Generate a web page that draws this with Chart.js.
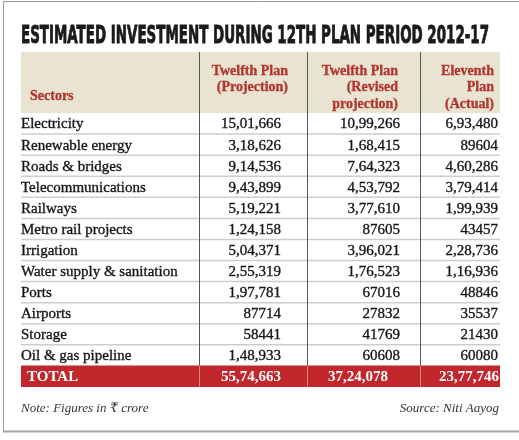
<!DOCTYPE html>
<html>
<head>
<meta charset="utf-8">
<script src="https://cdn.jsdelivr.net/npm/chart.js@4.4.1/dist/chart.umd.min.js"></script>
<style>
  html, body { margin: 0; padding: 0; background: #fff; }
  canvas { display: block; }
</style>
</head>
<body>
<canvas id="table-chart" width="519" height="440"></canvas>
<script>
const title = 'ESTIMATED INVESTMENT DURING 12TH PLAN PERIOD 2012-17';
const rowHeader = 'Sectors';
const colHeaders = [
  ['Twelfth Plan', '(Projection)'],
  ['Twelfth Plan', '(Revised', 'projection)'],
  ['Eleventh', 'Plan', '(Actual)'],
];
const sectors = [
  'Electricity', 'Renewable energy', 'Roads & bridges', 'Telecommunications',
  'Railways', 'Metro rail projects', 'Irrigation', 'Water supply & sanitation',
  'Ports', 'Airports', 'Storage', 'Oil & gas pipeline',
];
const projection = [1501666, 318626, 914536, 943899, 519221, 124158, 504371, 255319, 197781, 87714, 58441, 148933];
const revised = [1099266, 168415, 764323, 453792, 377610, 87605, 396021, 176523, 67016, 27832, 41769, 60608];
const actual = [693480, 89604, 460286, 379414, 199939, 43457, 228736, 116936, 48846, 35537, 21430, 60080];
const totalLabel = 'TOTAL';
const totals = [5574663, 3724078, 2377746];
const note = 'Note: Figures in ₹ crore';
const source = 'Source: Niti Aayog';

// layout (x in table units, 0..479 across the table)
const TABLE_W = 479;
const dividers = [178, 286, 399];
const valueRight = [260, 379, 477];
const totalRight = [260, 367, 478];
const headerTop = 52;

const SERIF = '"Liberation Serif", "DejaVu Serif", serif';
const RED = '#c1272d';

// 15,01,666 style; figures below one lakh are printed plain
function fmtInr(n) {
  if (n < 100000) return String(n);
  const s = String(n);
  const rest = s.slice(0, -3).replace(/\B(?=(\d{2})+(?!\d))/g, ',');
  return `${rest},${s.slice(-3)}`;
}

// fill + hairline stroke, the print original is a touch heavier than the system serif
function heavyText(ctx, text, px, py, weight, maxWidth) {
  ctx.lineWidth = weight;
  ctx.strokeStyle = ctx.fillStyle;
  if (maxWidth) {
    ctx.fillText(text, px, py, maxWidth);
    ctx.strokeText(text, px, py, maxWidth);
  } else {
    ctx.fillText(text, px, py);
    ctx.strokeText(text, px, py);
  }
}

const labels = [...sectors, totalLabel];
const columns = [projection, revised, actual];

const tablePlugin = {
  id: 'tablePlugin',
  beforeDatasetsDraw(chart) {
    const { ctx, chartArea, scales: { x } } = chart;
    ctx.save();
    // header band
    ctx.fillStyle = '#e9e4d2';
    ctx.fillRect(x.getPixelForValue(0), headerTop, x.getPixelForValue(TABLE_W) - x.getPixelForValue(0), chartArea.top - headerTop);
    ctx.restore();
  },
  afterDatasetsDraw(chart) {
    const { ctx, chartArea, scales: { x, y } } = chart;
    const last = labels.length - 1;
    const totalTop = (y.getPixelForValue(last - 1) + y.getPixelForValue(last)) / 2;
    ctx.save();
    // row separators
    ctx.strokeStyle = '#cdcdcd';
    ctx.lineWidth = 1.5;
    for (let i = 0; i < last - 1; i++) {
      const py = (y.getPixelForValue(i) + y.getPixelForValue(i + 1)) / 2;
      ctx.beginPath();
      ctx.moveTo(x.getPixelForValue(0), py);
      ctx.lineTo(x.getPixelForValue(TABLE_W), py);
      ctx.stroke();
    }
    // column dividers
    ctx.lineWidth = 1;
    dividers.forEach((d) => {
      const px = Math.round(x.getPixelForValue(d)) + 0.5;
      ctx.strokeStyle = '#555';
      ctx.beginPath();
      ctx.moveTo(px, headerTop);
      ctx.lineTo(px, totalTop);
      ctx.stroke();
      ctx.strokeStyle = 'rgba(255,255,255,0.45)';
      ctx.beginPath();
      ctx.moveTo(px, totalTop);
      ctx.lineTo(px, chartArea.bottom);
      ctx.stroke();
    });
    ctx.restore();
  },
  afterDraw(chart) {
    const { ctx, scales: { x, y } } = chart;
    const W = chart.width;
    ctx.save();

    // frame
    ctx.strokeStyle = '#9a9a9a';
    ctx.lineWidth = 1;
    ctx.beginPath();
    ctx.moveTo(W, 1.5);
    ctx.lineTo(3.5, 1.5);
    ctx.lineTo(3.5, 431);
    ctx.stroke();
    ctx.lineWidth = 2;
    ctx.strokeStyle = '#a5a5a5';
    ctx.beginPath();
    ctx.moveTo(3, 431.5);
    ctx.lineTo(W, 431.5);
    ctx.stroke();

    // title
    ctx.fillStyle = '#1b1b1b';
    ctx.font = 'bold 25px "Liberation Sans Narrow", "DejaVu Sans Condensed", sans-serif';
    ctx.textBaseline = 'alphabetic';
    ctx.textAlign = 'left';
    heavyText(ctx, title, 21, 43, 0.9, 468);

    // header
    ctx.fillStyle = '#b3342c';
    ctx.font = `bold 14px ${SERIF}`;
    ctx.textBaseline = 'middle';
    heavyText(ctx, rowHeader, 30, 96, 0.3);
    ctx.textAlign = 'right';
    const headerRight = [288, 398, 494];
    colHeaders.forEach((lines, c) => {
      lines.forEach((line, k) => heavyText(ctx, line, headerRight[c], 71 + k * 16.5, 0.3));
    });

    // body rows
    ctx.font = `15px ${SERIF}`;
    ctx.fillStyle = '#161616';
    sectors.forEach((s, i) => {
      const py = y.getPixelForValue(i) + 1;
      ctx.textAlign = 'left';
      heavyText(ctx, s, x.getPixelForValue(0), py, 0.35);
      ctx.textAlign = 'right';
      columns.forEach((col, c) => heavyText(ctx, fmtInr(col[i]), x.getPixelForValue(valueRight[c]), py, 0.35));
    });

    // total row
    const ty = y.getPixelForValue(labels.length - 1) + 1;
    ctx.fillStyle = '#fff';
    ctx.font = `bold 15px ${SERIF}`;
    ctx.textAlign = 'left';
    ctx.fillText(totalLabel, x.getPixelForValue(6), ty);
    ctx.textAlign = 'right';
    totals.forEach((t, c) => ctx.fillText(fmtInr(t), x.getPixelForValue(totalRight[c]), ty));

    // notes
    ctx.fillStyle = '#333';
    ctx.font = `italic 13px ${SERIF}`;
    ctx.textAlign = 'left';
    ctx.fillText(note, 21, 409);
    ctx.textAlign = 'right';
    ctx.fillText(source, 499, 409);

    ctx.restore();
  },
};

new Chart(document.getElementById('table-chart'), {
  type: 'bar',
  data: {
    labels,
    datasets: [{
      label: totalLabel,
      data: labels.map((l) => (l === totalLabel ? [0, TABLE_W] : null)),
      backgroundColor: RED,
      barPercentage: 1,
      categoryPercentage: 1,
    }],
  },
  options: {
    indexAxis: 'y',
    responsive: false,
    animation: false,
    devicePixelRatio: 1,
    layout: { padding: { left: 21, right: 19, top: 113, bottom: 53 } },
    plugins: { legend: { display: false }, tooltip: { enabled: false }, title: { display: false } },
    scales: {
      x: { type: 'linear', min: 0, max: TABLE_W, display: false },
      y: { type: 'category', offset: true, display: false },
    },
  },
  plugins: [tablePlugin],
});
</script>
</body>
</html>
